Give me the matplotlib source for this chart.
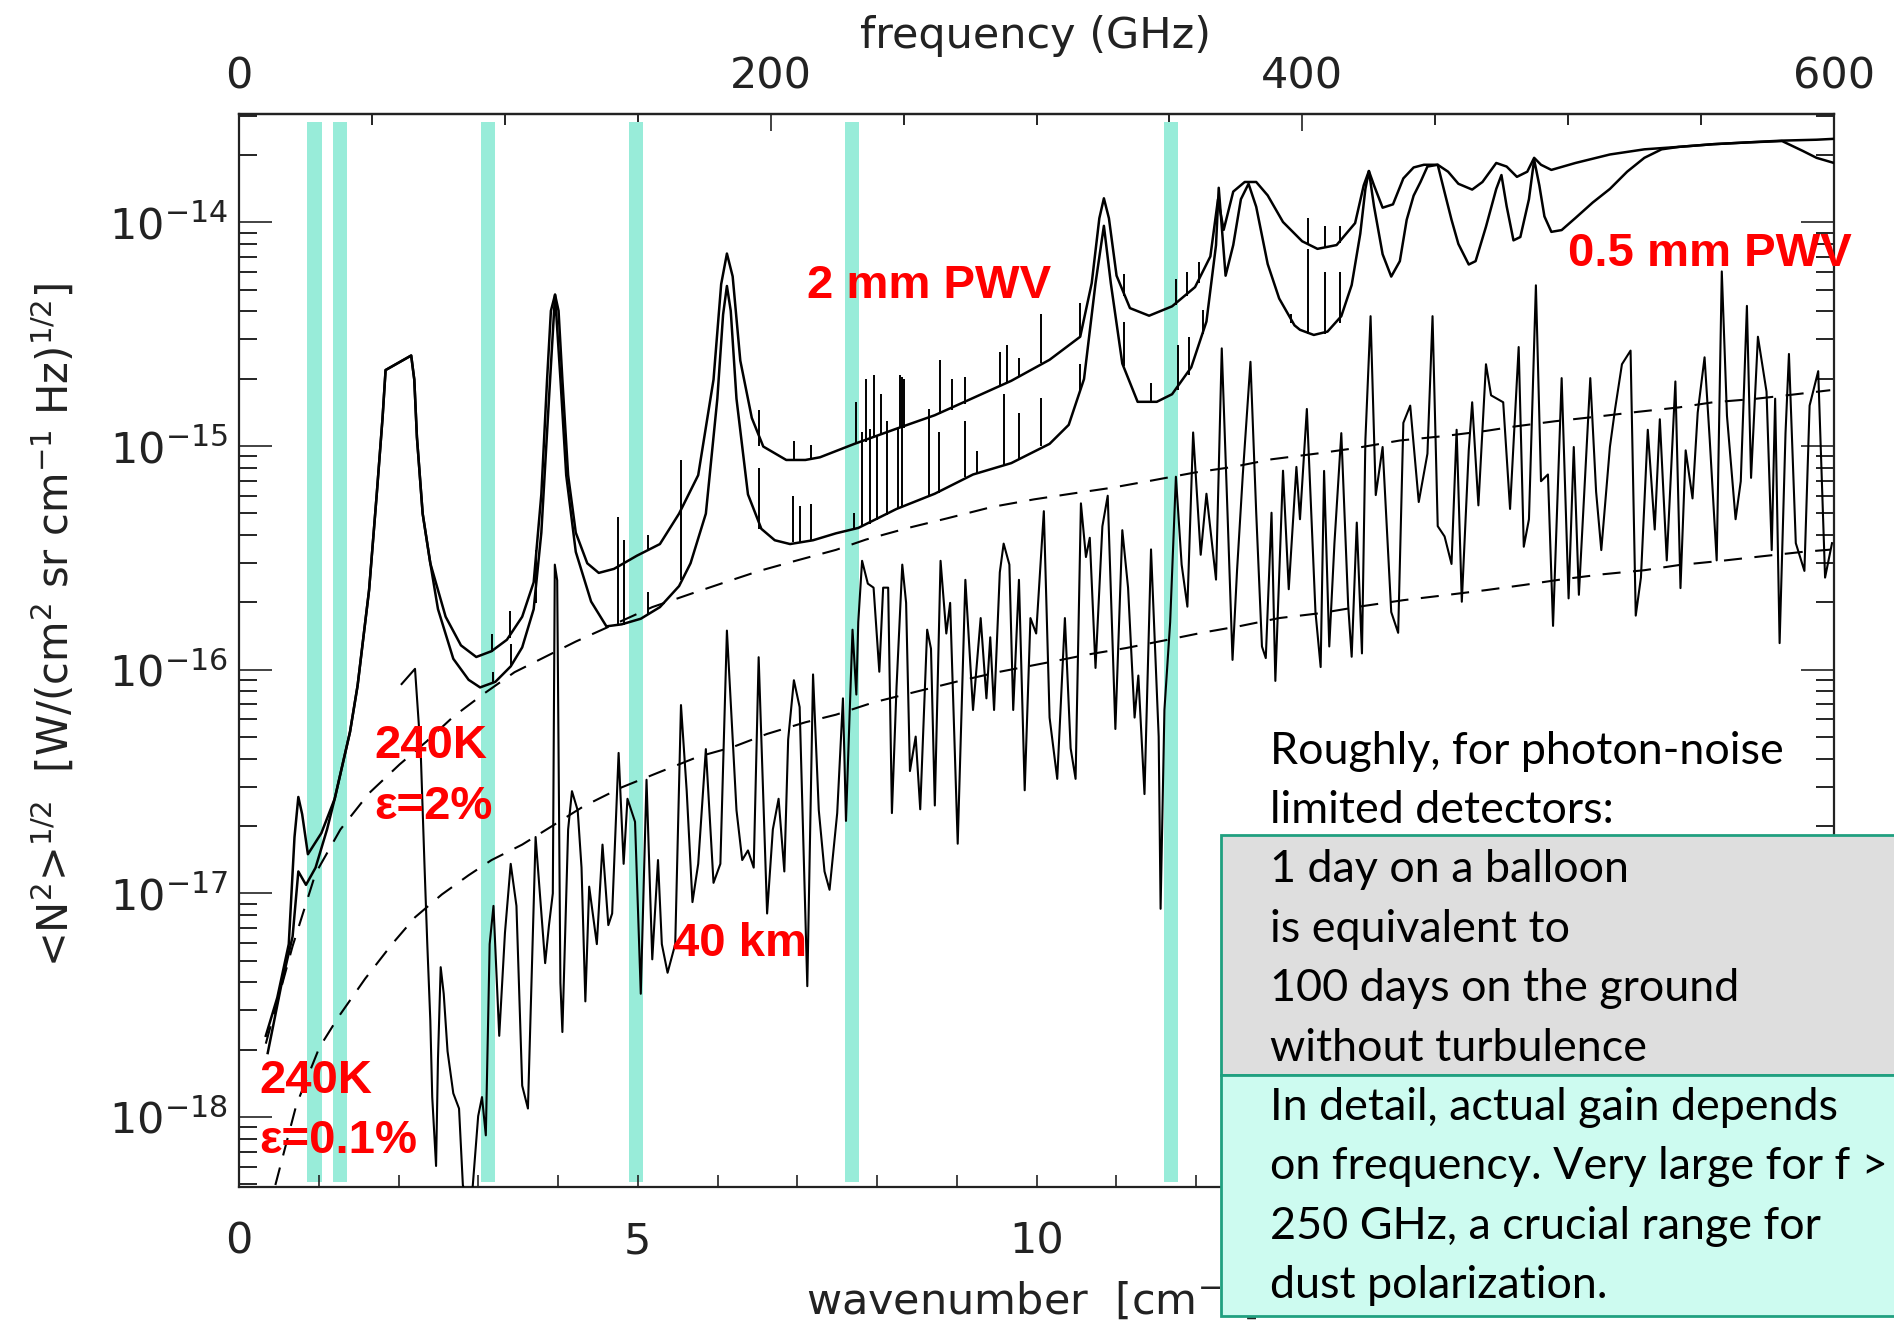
import numpy as np
import matplotlib.pyplot as plt
from matplotlib.patches import Rectangle
from matplotlib.ticker import LogLocator, MultipleLocator, NullFormatter

plt.rcParams['lines.scale_dashes'] = False
plt.rcParams['mathtext.fontset'] = 'dejavusans'

# ---- data: wavenumber [cm^-1] and log10 of noise ----
# ground, 2 mm PWV
x_2mm = [0.336, 0.48, 0.624, 0.696, 0.744, 0.792, 0.864, 1.032, 1.2, 1.392, 1.487, 1.631,
         1.727, 1.8, 1.838, 2.159, 2.198, 2.231, 2.303, 2.399, 2.591, 2.783, 2.975, 3.167,
         3.359, 3.551, 3.695, 3.791, 3.863, 3.911, 3.963, 4.007, 4.055, 4.127, 4.223, 4.367,
         4.511, 4.702, 4.99, 5.278, 5.518, 5.758, 5.95, 6.046, 6.118, 6.19, 6.286, 6.43,
         6.574, 6.862, 7.102, 7.285, 7.717, 8.245, 8.724, 9.204, 9.684, 10.164, 10.548,
         10.692, 10.788, 10.845, 10.908, 11.004, 11.172, 11.412, 11.7, 11.988, 12.18, 12.276,
         12.347, 12.467, 12.611, 12.755, 12.899, 13.091, 13.331, 13.523, 13.763, 13.995,
         14.103, 14.168, 14.232, 14.34, 14.47, 14.6, 14.729, 14.858, 15.031, 15.161, 15.29,
         15.463, 15.592, 15.765, 15.895, 16.024, 16.154, 16.24, 16.326, 16.456, 16.758,
         17.19, 17.622, 18.054, 18.485, 18.917, 19.349, 19.781, 20.0]
log_2mm = [-17.637, -17.466, -17.227, -16.748, -16.569, -16.646, -16.825, -16.731, -16.577,
           -16.278, -16.071, -15.644, -15.216, -14.874, -14.66, -14.595, -14.703, -14.96,
           -15.302, -15.524, -15.763, -15.891, -15.943, -15.917, -15.866, -15.763, -15.609,
           -15.216, -14.703, -14.395, -14.323, -14.395, -14.703, -15.13, -15.387, -15.524,
           -15.567, -15.549, -15.49, -15.438, -15.302, -15.13, -14.703, -14.276, -14.139,
           -14.241, -14.618, -14.874, -15.002, -15.062, -15.062, -15.05, -14.99, -14.922,
           -14.862, -14.785, -14.708, -14.614, -14.511, -14.272, -13.981, -13.892, -13.981,
           -14.238, -14.383, -14.417, -14.375, -14.289, -14.152, -13.896, -14.033, -13.862,
           -13.819, -13.819, -13.879, -13.998, -14.084, -14.118, -14.101, -14.003, -13.834,
           -13.77, -13.834, -13.934, -13.919, -13.803, -13.754, -13.742, -13.742, -13.773,
           -13.827, -13.853, -13.819, -13.734, -13.75, -13.796, -13.773, -13.711, -13.742,
           -13.765, -13.734, -13.696, -13.673, -13.662, -13.65, -13.642, -13.634, -13.63,
           -13.626]

# ground, 0.5 mm PWV
x_05mm = [0.36, 0.528, 0.672, 0.744, 0.84, 0.96, 1.104, 1.2, 1.392, 1.487, 1.631, 1.727, 1.8,
          1.838, 2.159, 2.198, 2.231, 2.303, 2.399, 2.495, 2.687, 2.879, 3.023, 3.215, 3.407,
          3.551, 3.695, 3.791, 3.887, 3.963, 4.031, 4.103, 4.223, 4.415, 4.607, 4.798, 5.038,
          5.278, 5.518, 5.662, 5.854, 5.998, 6.07, 6.118, 6.166, 6.238, 6.382, 6.55, 6.718,
          6.91, 7.198, 7.486, 7.765, 8.245, 8.724, 9.204, 9.684, 10.164, 10.404, 10.596, 10.74,
          10.845, 10.932, 11.076, 11.268, 11.508, 11.7, 11.94, 12.131, 12.251, 12.285, 12.371,
          12.467, 12.563, 12.659, 12.755, 12.899, 13.043, 13.235, 13.304, 13.477, 13.649,
          13.822, 13.952, 14.06, 14.124, 14.168, 14.232, 14.34, 14.448, 14.556, 14.642, 14.729,
          14.815, 14.902, 15.031, 15.117, 15.204, 15.29, 15.42, 15.506, 15.636, 15.765, 15.83,
          15.895, 15.981, 16.067, 16.175, 16.24, 16.305, 16.369, 16.456, 16.585, 16.758,
          16.974, 17.19, 17.406, 17.622, 17.838, 18.054, 18.485, 18.917, 19.349, 19.608,
          19.781, 20.0]
log_05mm = [-17.714, -17.415, -17.193, -16.902, -16.962, -16.885, -16.714, -16.577, -16.278,
            -16.071, -15.644, -15.216, -14.874, -14.66, -14.595, -14.703, -14.96, -15.302,
            -15.524, -15.729, -15.951, -16.045, -16.079, -16.054, -15.985, -15.9, -15.729,
            -15.387, -14.788, -14.323, -14.703, -15.13, -15.473, -15.695, -15.806, -15.797,
            -15.772, -15.72, -15.626, -15.524, -15.302, -14.788, -14.412, -14.284, -14.395,
            -14.788, -15.216, -15.37, -15.421, -15.438, -15.421, -15.39, -15.366, -15.281,
            -15.213, -15.127, -15.076, -14.99, -14.905, -14.7, -14.272, -14.015, -14.272,
            -14.631, -14.802, -14.802, -14.768, -14.648, -14.443, -14.101, -13.845, -14.238,
            -14.101, -13.896, -13.827, -13.93, -14.186, -14.34, -14.46, -14.48, -14.503,
            -14.488, -14.419, -14.28, -14.05, -13.85, -13.77, -13.927, -14.142, -14.242,
            -14.173, -13.988, -13.88, -13.819, -13.75, -13.742, -13.865, -13.988, -14.096,
            -14.188, -14.173, -14.019, -13.85, -13.788, -13.927, -14.08, -14.065, -13.896,
            -13.719, -13.834, -13.973, -14.042, -14.034, -13.98, -13.911, -13.85, -13.773,
            -13.711, -13.673, -13.662, -13.65, -13.642, -13.636, -13.68, -13.711, -13.734]

# narrow lines on the ground curves: position, base, top (log10)
spk_2mm_x = [3.167, 3.397, 5.134, 6.516, 6.958, 7.174, 7.741, 7.861, 7.957, 8.053, 8.293,
             8.341, 8.796, 8.94, 9.108, 9.54, 9.636, 9.78, 10.058, 10.548, 11.1, 11.748,
             11.892, 12.036, 13.403, 13.619, 13.811]
spk_2mm_base = [-15.92, -15.86, -15.46, -15.0, -15.06, -15.06, -14.99, -14.98, -14.96,
                -14.95, -14.92, -14.92, -14.855, -14.84, -14.81, -14.73, -14.72, -14.69,
                -14.63, -14.51, -14.33, -14.37, -14.33, -14.27, -14.1, -14.11, -14.09]
spk_2mm_top = [-15.84, -15.737, -15.396, -14.84, -14.977, -14.994, -14.802, -14.7, -14.682,
               -14.768, -14.682, -14.7, -14.614, -14.7, -14.691, -14.58, -14.546, -14.605,
               -14.409, -14.358, -14.229, -14.255, -14.221, -14.178, -13.981, -14.015,
               -14.015]

spk_05mm_x = [3.19, 3.407, 3.719, 4.75, 4.823, 5.134, 5.542, 6.516, 6.948, 7.03, 7.174,
              7.717, 7.813, 7.909, 8.005, 8.125, 8.269, 8.317, 8.653, 8.773, 9.108, 9.252,
              9.588, 9.78, 10.058, 10.548, 11.1, 11.436, 11.772, 11.916, 12.083, 13.187,
              13.403, 13.619, 13.811]
spk_05mm_base = [-16.06, -15.985, -15.7, -15.8, -15.8, -15.75, -15.6, -15.37, -15.43,
                 -15.43, -15.42, -15.37, -15.36, -15.35, -15.33, -15.31, -15.28, -15.27,
                 -15.22, -15.21, -15.14, -15.12, -15.09, -15.06, -15.0, -14.75, -14.64,
                 -14.8, -14.75, -14.68, -14.5, -14.45, -14.5, -14.5, -14.45]
spk_05mm_top = [-16.011, -15.883, -15.464, -15.319, -15.421, -15.652, -15.062, -15.096,
                -15.225, -15.267, -15.259, -15.298, -14.939, -14.922, -14.956, -14.888,
                -14.922, -14.691, -14.836, -14.939, -14.888, -15.024, -14.768, -14.853,
                -14.785, -14.631, -14.443, -14.716, -14.546, -14.511, -14.392, -14.409,
                -14.118, -14.221, -14.221]

# balloon, 40 km
x_40km = [2.039, 2.207, 2.279, 2.327, 2.361, 2.399, 2.423, 2.471, 2.495, 2.529, 2.567, 2.615,
          2.687, 2.759, 2.807, 2.9, 2.999, 3.047, 3.095, 3.143, 3.191, 3.263, 3.335, 3.407,
          3.479, 3.551, 3.623, 3.719, 3.791, 3.839, 3.887, 3.935, 3.96, 3.99, 4.03, 4.055,
          4.127, 4.175, 4.247, 4.295, 4.343, 4.391, 4.487, 4.558, 4.631, 4.679, 4.76, 4.823,
          4.871, 4.966, 5.038, 5.11, 5.182, 5.254, 5.302, 5.374, 5.47, 5.542, 5.614, 5.686,
          5.758, 5.854, 5.95, 6.036, 6.118, 6.238, 6.31, 6.382, 6.454, 6.516, 6.622, 6.694,
          6.766, 6.838, 6.886, 6.958, 7.03, 7.126, 7.198, 7.27, 7.342, 7.405, 7.501, 7.573,
          7.611, 7.693, 7.741, 7.765, 7.813, 7.885, 7.957, 8.029, 8.077, 8.14, 8.187, 8.245,
          8.317, 8.365, 8.413, 8.485, 8.542, 8.629, 8.677, 8.725, 8.797, 8.869, 8.917, 9.012,
          9.108, 9.204, 9.3, 9.372, 9.42, 9.468, 9.54, 9.588, 9.66, 9.708, 9.78, 9.852, 9.924,
          9.996, 10.092, 10.164, 10.26, 10.356, 10.428, 10.49, 10.557, 10.62, 10.668, 10.74,
          10.826, 10.893, 10.989, 11.076, 11.148, 11.23, 11.277, 11.354, 11.436, 11.532,
          11.556, 11.604, 11.676, 11.748, 11.82, 11.892, 11.964, 12.059, 12.131, 12.251,
          12.323, 12.395, 12.458, 12.515, 12.587, 12.683, 12.755, 12.827, 12.875, 12.947,
          12.995, 13.091, 13.163, 13.259, 13.304, 13.39, 13.498, 13.563, 13.606, 13.671,
          13.736, 13.822, 13.908, 13.952, 14.016, 14.081, 14.124, 14.189, 14.254, 14.34,
          14.448, 14.535, 14.6, 14.686, 14.793, 14.902, 14.966, 15.031, 15.117, 15.204,
          15.268, 15.333, 15.42, 15.463, 15.541, 15.636, 15.7, 15.852, 15.938, 16.046, 16.11,
          16.175, 16.262, 16.326, 16.413, 16.477, 16.585, 16.672, 16.737, 16.801, 16.944,
          17.017, 17.082, 17.19, 17.255, 17.341, 17.449, 17.514, 17.579, 17.665, 17.752,
          17.816, 17.903, 18.011, 18.075, 18.14, 18.226, 18.291, 18.377, 18.442, 18.529,
          18.593, 18.658, 18.766, 18.831, 18.908, 18.96, 19.046, 19.154, 19.219, 19.262,
          19.318, 19.392, 19.435, 19.521, 19.629, 19.694, 19.802, 19.888, 19.975]
log_40km = [-16.064, -15.996, -16.372, -16.885, -17.227, -17.569, -17.911, -18.219, -17.74,
            -17.33, -17.449, -17.706, -17.894, -17.962, -18.304, -18.45, -17.996, -17.911,
            -18.082, -17.227, -17.056, -17.637, -17.176, -16.868, -17.056, -17.86, -17.962,
            -16.748, -17.09, -17.312, -17.142, -17.0, -15.53, -15.6, -17.4, -17.62, -16.714,
            -16.543, -16.629, -16.885, -17.483, -16.97, -17.227, -16.782, -17.142, -17.09,
            -16.372, -16.868, -16.577, -16.68, -17.449, -16.492, -17.295, -16.851, -17.227,
            -17.355, -17.227, -16.158, -16.543, -17.039, -16.868, -16.355, -16.953, -16.868,
            -15.825, -16.628, -16.851, -16.808, -16.885, -15.944, -17.09, -16.714, -16.577,
            -16.902, -16.312, -16.047, -16.167, -17.415, -16.021, -16.628, -16.902, -16.984,
            -16.641, -16.128, -16.676, -15.821, -16.111, -15.787, -15.513, -15.615, -15.633,
            -16.009, -15.633, -15.633, -16.641, -16.077, -15.53, -15.701, -16.453, -16.299,
            -16.624, -15.821, -15.906, -16.607, -15.513, -15.838, -15.701, -16.778, -15.598,
            -16.18, -15.769, -16.128, -15.855, -16.18, -15.564, -15.436, -15.53, -16.18,
            -15.598, -16.539, -15.769, -15.838, -15.291, -16.214, -16.488, -15.769, -16.351,
            -16.488, -15.256, -15.496, -15.41, -15.992, -15.359, -15.222, -16.265, -15.376,
            -15.633, -16.214, -16.026, -16.556, -15.462, -16.299, -17.069, -16.18, -15.787,
            -15.137, -15.53, -15.718, -14.939, -15.486, -15.213, -15.597, -14.563, -15.298,
            -15.956, -15.554, -15.127, -14.623, -15.298, -15.896, -15.948, -15.298, -16.05,
            -15.11, -15.64, -15.093, -15.327, -14.834, -15.742, -15.988, -15.111, -15.896,
            -15.434, -14.942, -15.711, -15.942, -15.342, -15.927, -14.973, -14.419, -15.219,
            -15.004, -15.742, -15.835, -14.896, -14.819, -15.25, -15.034, -14.419, -15.358,
            -15.404, -15.527, -14.927, -15.696, -15.019, -14.804, -15.265, -14.634, -14.773,
            -14.804, -15.281, -14.557, -15.45, -15.327, -14.281, -15.157, -15.127, -15.804,
            -14.696, -15.681, -15.004, -15.665, -14.696, -15.204, -15.465, -15.004, -14.834,
            -14.634, -14.573, -15.758, -15.588, -14.927, -15.373, -14.88, -15.511, -14.711,
            -15.635, -15.019, -15.234, -14.85, -14.603, -14.973, -15.511, -14.219, -14.865,
            -15.327, -15.157, -14.373, -15.142, -14.511, -14.757, -15.465, -14.788, -15.881,
            -14.942, -14.588, -15.434, -15.558, -14.819, -14.665, -15.588, -15.434]

# 240 K emission, emissivity 2 %
x_eps2 = [0.336, 0.672, 0.96, 1.272, 1.631, 2.015, 2.351, 2.687, 3.071, 3.455, 3.791, 4.223,
          5.182, 5.662, 6.094, 6.526, 6.958, 7.486, 7.861, 8.389, 8.869, 9.444, 9.972, 10.452,
          10.932, 11.46, 11.988, 12.467, 12.947, 13.523, 14.0, 14.556, 15.117, 15.636, 15.981,
          16.499, 17.06, 17.535, 18.054, 18.485, 19.003, 19.478, 19.953]
log_eps2 = [-17.672, -17.236, -16.911, -16.714, -16.552, -16.423, -16.321, -16.21, -16.107,
            -16.011, -15.951, -15.874, -15.72, -15.661, -15.609, -15.558, -15.515, -15.464,
            -15.418, -15.366, -15.324, -15.272, -15.238, -15.212, -15.187, -15.153, -15.118,
            -15.093, -15.059, -15.033, -15.009, -14.975, -14.955, -14.932, -14.913, -14.889,
            -14.867, -14.847, -14.827, -14.804, -14.789, -14.77, -14.75]

# 240 K emission, emissivity 0.1 %
x_eps01 = [0.456, 0.72, 1.008, 1.248, 1.583, 1.919, 2.207, 2.543, 2.879, 3.167, 3.551, 3.935,
           4.319, 4.798, 5.278, 5.758, 6.19, 6.622, 7.102, 7.486, 7.957, 8.629, 9.012, 9.54,
           10.164, 10.644, 11.124, 11.604, 12.083, 12.563, 13.043, 13.563, 14.081, 14.6,
           15.117, 15.636, 16.11, 16.586, 17.104, 17.622, 18.054, 18.615, 19.09, 19.608,
           19.953]
log_eps01 = [-18.304, -17.945, -17.689, -17.552, -17.381, -17.227, -17.107, -17.005, -16.919,
             -16.851, -16.782, -16.697, -16.611, -16.526, -16.457, -16.389, -16.346, -16.287,
             -16.235, -16.201, -16.146, -16.086, -16.052, -16.009, -15.966, -15.932, -15.903,
             -15.869, -15.834, -15.804, -15.769, -15.747, -15.716, -15.689, -15.667, -15.644,
             -15.621, -15.596, -15.573, -15.555, -15.532, -15.512, -15.493, -15.473, -15.463]

# detector bands (centre wavenumber, cm^-1)
band_centres = [0.945, 1.27, 3.12, 4.98, 7.69, 11.69]
band_width = 0.18

x_ticks = [0, 5, 10, 15, 20]
x_tick_labels = ['0', '5', '10', '', '']   # 15 and 20 sit under the text box
y_ticks = [1e-14, 1e-15, 1e-16, 1e-17, 1e-18]
ghz_ticks = [0, 200, 400, 600]

white_lines = ["Roughly, for photon-noise", "limited detectors:"]
grey_lines = ["1 day on a balloon", "is equivalent to", "100 days on the ground",
              "without turbulence"]
cyan_lines = ["In detail, actual gain depends", "on frequency. Very large for f >",
              "250 GHz, a crucial range for", "dust polarization."]

W, H = 1894, 1323
fig = plt.figure(figsize=(W / 100, H / 100), dpi=100)
ax = fig.add_axes([239 / W, 1 - 1187 / H, 1595 / W, 1073 / H])

for c in band_centres:
    ax.axvspan(c - band_width / 2, c + band_width / 2, ymin=0.005, ymax=0.993,
               color='#98ecd9', lw=0, zorder=1)

ax.plot(x_2mm, 10 ** np.array(log_2mm), color='black', lw=1.8, zorder=3)
ax.plot(x_05mm, 10 ** np.array(log_05mm), color='black', lw=1.8, zorder=3)
ax.vlines(spk_2mm_x, 10 ** np.array(spk_2mm_base), 10 ** np.array(spk_2mm_top),
          color='black', lw=1.4, zorder=3)
ax.vlines(spk_05mm_x, 10 ** np.array(spk_05mm_base), 10 ** np.array(spk_05mm_top),
          color='black', lw=1.4, zorder=3)
ax.plot(x_40km, 10 ** np.array(log_40km), color='black', lw=1.5, zorder=3)
ax.plot(x_eps2, 10 ** np.array(log_eps2), color='black', lw=1.5, dashes=(13, 9), zorder=3)
ax.plot(x_eps01, 10 ** np.array(log_eps01), color='black', lw=1.5, dashes=(13, 9), zorder=3)

ax.set_yscale('log')
ax.set_xlim(0, 20)
ax.set_ylim(10 ** -18.313, 10 ** -13.515)

ax.set_xticks(x_ticks, x_tick_labels)
ax.xaxis.set_minor_locator(MultipleLocator(1))
ax.set_yticks(y_ticks)
ax.yaxis.set_minor_locator(LogLocator(base=10, subs=np.arange(2, 10), numticks=20))
ax.yaxis.set_minor_formatter(NullFormatter())
ax.tick_params(axis='x', which='both', direction='in', top=False, length=8.5, width=1.2,
               labelsize=31, pad=24, colors='#222222')
ax.tick_params(axis='y', which='major', direction='in', left=True, right=True, length=24,
               width=1.2, labelsize=31, pad=8, colors='#222222')
ax.tick_params(axis='y', which='minor', direction='in', left=True, right=True, length=13,
               width=1.2)
for s in ax.spines.values():
    s.set_linewidth(1.6)
    s.set_color('#222222')

top = ax.secondary_xaxis('top', functions=(lambda k: k * 30.0, lambda f: f / 30.0))
top.set_xticks(ghz_ticks)
top.xaxis.set_minor_locator(MultipleLocator(50))
top.tick_params(axis='x', which='major', direction='in', length=12, width=1.2,
                labelsize=31, pad=12, colors='#222222')
top.tick_params(axis='x', which='minor', direction='in', length=8, width=1.2)
top.spines['top'].set_linewidth(1.6)
top.spines['top'].set_color('#222222')

fig.text(1036 / W, 1 - 36 / H, 'frequency (GHz)', ha='center', va='center', fontsize=31,
         color='#222222')
fig.text(54 / W, 1 - 625 / H, '<N$^2$>$^{1/2}$  [W/(cm$^2$ sr cm$^{-1}$ Hz)$^{1/2}$]',
         rotation=90, ha='center', va='center', fontsize=30, color='#222222')
fig.text(806 / W, 1 - 1299 / H, 'wavenumber  [cm$^{-1}$]', ha='left', va='center',
         fontsize=31, color='#222222', zorder=1)

red = dict(color='#ff0000', fontsize=34, fontweight='bold', family='Liberation Sans',
           ha='left', va='center', zorder=5)
ax.text(7.12, 10 ** -14.286, '2 mm PWV', **red)
ax.text(16.67, 10 ** -14.14, '0.5 mm PWV', clip_on=False, **red)
ax.text(1.70, 10 ** -16.342, '240K', **red)
ax.text(1.70, 10 ** -16.612, 'ε=2%', **red)
ax.text(0.258, 10 ** -17.837, '240K', **red)
ax.text(0.258, 10 ** -18.107, 'ε=0.1%', **red)
ax.text(5.44, 10 ** -17.227, '40 km', **red)

# boxes on top of the plot
fig.add_artist(Rectangle((1221 / W, 1 - 1074.6 / H), 0.5, (1074.6 - 835) / H,
                         transform=fig.transFigure, facecolor='#dedede',
                         edgecolor='#20a080', lw=2, zorder=10))
fig.add_artist(Rectangle((1221 / W, 1 - 1315.8 / H), 0.5, (1315.8 - 1074.6) / H,
                         transform=fig.transFigure, facecolor='#cdfbf0',
                         edgecolor='#20a080', lw=2, zorder=10))

box_font = dict(family='Lato', fontsize=32.3, color='black', ha='left', va='baseline',
                zorder=11)
for i, line in enumerate(white_lines + grey_lines + cyan_lines):
    fig.text(1270 / W, 1 - (763.6 + i * 59.4) / H, line, **box_font)

fig.savefig('out.png', dpi=100)
